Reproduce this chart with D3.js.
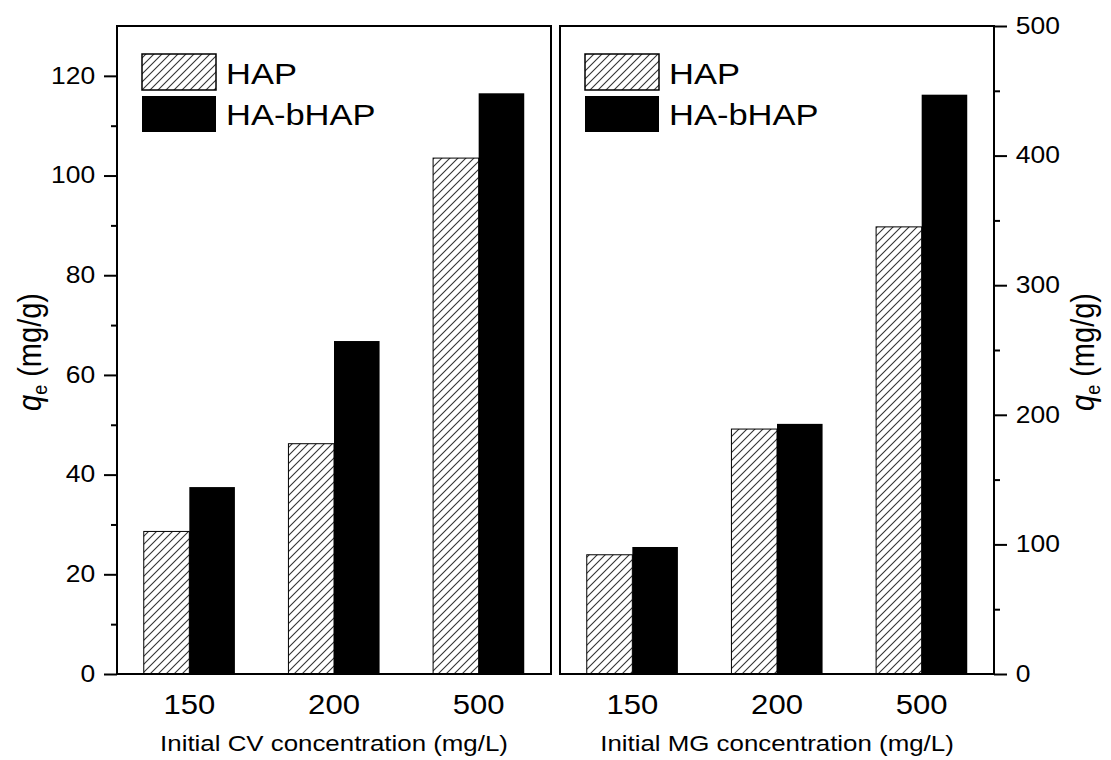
<!DOCTYPE html>
<html>
<head>
<meta charset="utf-8">
<script src="https://cdn.jsdelivr.net/npm/d3@7"></script>
<style>
  body { margin: 0; background: #fff; }
  svg { display: block; font-family: Arial, "Liberation Sans", sans-serif; }
</style>
</head>
<body>
<svg id="chart" width="1111" height="760"></svg>
<script>
// --- Data ---
const categories = ['150', '200', '500'];
const seriesNames = ['HAP', 'HA-bHAP'];
const cvHAP = [28.6, 46.2, 103.5];
const cvHAbHAP = [37.5, 66.8, 116.5];
const mgHAP = [92, 189, 345];
const mgHAbHAP = [98, 193, 447];
const cvTicks = [0, 20, 40, 60, 80, 100, 120];
const cvMinor = [10, 30, 50, 70, 90, 110];
const mgTicks = [0, 100, 200, 300, 400, 500];
const mgMinor = [50, 150, 250, 350, 450];

const svg = d3.select('#chart');
const SX = 1.15; // picture is a bit wide: stretch text horizontally

// hatch pattern
const defs = svg.append('defs');
const pat = defs.append('pattern')
    .attr('id', 'hatch')
    .attr('patternUnits', 'userSpaceOnUse')
    .attr('width', 8).attr('height', 8);
pat.append('rect').attr('width', 8).attr('height', 8).attr('fill', '#fff');
pat.append('path')
    .attr('d', 'M-2,2 L2,-2 M0,8 L8,0 M6,10 L10,6')
    .attr('stroke', '#333').attr('stroke-width', 1.1);

const plotTop = 26, plotBottom = 674;

function stretchText(g, x, y, txt, size, anchor) {
    return g.append('text')
        .attr('transform', `translate(${x},${y}) scale(${SX},1)`)
        .attr('text-anchor', anchor || 'start')
        .attr('font-size', size)
        .attr('fill', '#000')
        .text(txt);
}

function panel(opt) {
    const g = svg.append('g');
    const x = d3.scaleBand().domain(categories).range([opt.left, opt.right]);
    const y = d3.scaleLinear().domain(opt.domain).range([plotBottom, plotTop]);
    const bw = x.bandwidth() * 0.315;

    const rows = categories.map((c, i) => ({ c, a: opt.a[i], b: opt.b[i] }));

    // HAP bars
    g.selectAll('.bar-a').data(rows).enter().append('rect')
        .attr('x', d => x(d.c) + x.bandwidth() / 2 - bw)
        .attr('y', d => y(d.a))
        .attr('width', bw)
        .attr('height', d => y(0) - y(d.a))
        .attr('fill', 'url(#hatch)')
        .attr('stroke', '#000').attr('stroke-width', 1);

    // HA-bHAP bars
    g.selectAll('.bar-b').data(rows).enter().append('rect')
        .attr('x', d => x(d.c) + x.bandwidth() / 2)
        .attr('y', d => y(d.b))
        .attr('width', bw)
        .attr('height', d => y(0) - y(d.b))
        .attr('fill', '#000');

    // frame
    g.append('rect')
        .attr('x', opt.left).attr('y', plotTop)
        .attr('width', opt.right - opt.left).attr('height', plotBottom - plotTop)
        .attr('fill', 'none').attr('stroke', '#000').attr('stroke-width', 2);

    // y axis
    const axX = opt.side === 'left' ? opt.left : opt.right;
    const mk = opt.side === 'left' ? d3.axisLeft : d3.axisRight;
    const ax = g.append('g').attr('transform', `translate(${axX},0)`)
        .call(mk(y).tickValues(opt.ticks).tickSize(13).tickSizeOuter(0).tickPadding(6));
    ax.select('.domain').remove();
    ax.selectAll('line').attr('stroke-width', 2);
    ax.selectAll('text')
        .attr('font-size', 23)
        .attr('font-family', 'Arial, "Liberation Sans", sans-serif')
        .attr('transform', `scale(${SX},1)`);
    const axm = g.append('g').attr('transform', `translate(${axX},0)`)
        .call(mk(y).tickValues(opt.minor).tickSize(6).tickFormat(''));
    axm.select('.domain').remove();
    axm.selectAll('line').attr('stroke-width', 2);

    // x labels
    categories.forEach(c => {
        stretchText(g, x(c) + x.bandwidth() / 2, 714, c, 27, 'middle');
    });
    stretchText(g, (opt.left + opt.right) / 2, 751, opt.xTitle, 22.5, 'middle');

    // y title
    const t = g.append('text')
        .attr('transform', `translate(${opt.yTitleX},352) scale(${SX},1) rotate(-90)`)
        .attr('text-anchor', 'middle')
        .attr('font-size', 29);
    t.append('tspan').attr('font-style', 'italic').text('q');
    t.append('tspan').attr('font-size', 18).attr('dy', 5).text('e');
    t.append('tspan').attr('dy', -5).text(' (mg/g)');

    // legend
    const lx = opt.left + 25;
    g.append('rect').attr('x', lx).attr('y', 54).attr('width', 74).attr('height', 36)
        .attr('fill', 'url(#hatch)').attr('stroke', '#000').attr('stroke-width', 1.5);
    g.append('rect').attr('x', lx).attr('y', 96).attr('width', 74).attr('height', 36)
        .attr('fill', '#000');
    stretchText(g, lx + 84, 84, seriesNames[0], 30);
    stretchText(g, lx + 84, 125, seriesNames[1], 30);
}

panel({
    left: 117, right: 551, side: 'left', domain: [0, 130],
    a: cvHAP, b: cvHAbHAP, ticks: cvTicks, minor: cvMinor,
    xTitle: 'Initial CV concentration (mg/L)', yTitleX: 41
});
panel({
    left: 560, right: 994, side: 'right', domain: [0, 500],
    a: mgHAP, b: mgHAbHAP, ticks: mgTicks, minor: mgMinor,
    xTitle: 'Initial MG concentration (mg/L)', yTitleX: 1094
});
</script>
</body>
</html>
